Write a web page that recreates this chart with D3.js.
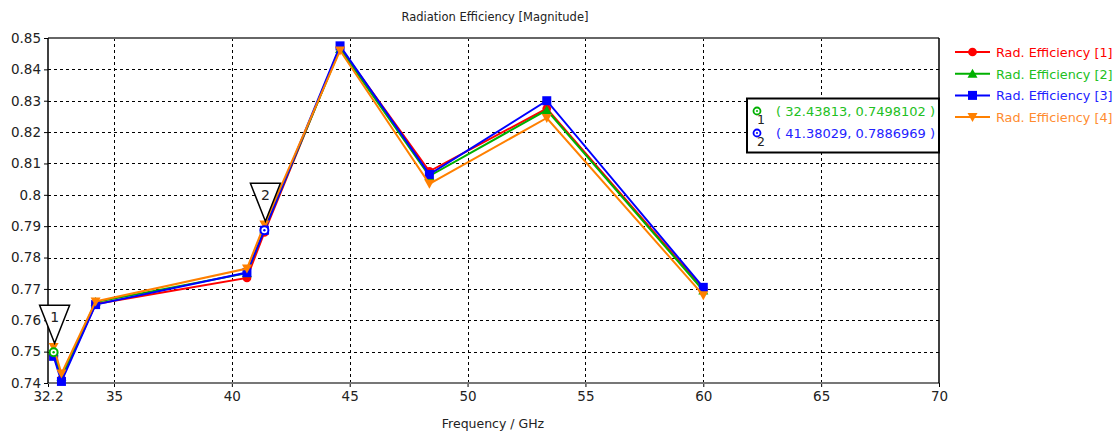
<!DOCTYPE html>
<html>
<head>
<meta charset="utf-8">
<script src="https://cdn.jsdelivr.net/npm/d3@7"></script>
<style>
  body { margin: 0; background: #fff; }
  svg { font-family: "DejaVu Sans", sans-serif; }
</style>
</head>
<body>
<svg id="chart" width="1118" height="436"></svg>
<script>
// frequencies (GHz) of the sample points
var freqs = [32.43813, 32.77, 34.22, 40.64, 41.38029, 44.59, 48.38, 53.36, 60];

// efficiency per series
var eff1 = [0.7490, 0.7412, 0.7652, 0.7735, 0.7880, 0.8470, 0.8075, 0.8275, 0.7700];
var eff2 = [0.7498, 0.7420, 0.7658, 0.7750, 0.7890, 0.8465, 0.8060, 0.8270, 0.7695];
var eff3 = [0.7485, 0.7405, 0.7650, 0.7752, 0.7887, 0.8475, 0.8065, 0.8300, 0.7705];
var eff4 = [0.7515, 0.7430, 0.7660, 0.7765, 0.7905, 0.8460, 0.8035, 0.8245, 0.7680];

var seriesNames = ["Rad. Efficiency [1]", "Rad. Efficiency [2]", "Rad. Efficiency [3]", "Rad. Efficiency [4]"];
var seriesColors = ["#ff0000", "#00b000", "#0000ff", "#ff8000"];
var legendColors = ["#ff0000", "#22c022", "#2222ff", "#ff8c30"];
var seriesShapes = ["circle", "triangle", "square", "down"];

var xTicks = [32.2, 35, 40, 45, 50, 55, 60, 65, 70];
var yTicks = [0.74, 0.75, 0.76, 0.77, 0.78, 0.79, 0.8, 0.81, 0.82, 0.83, 0.84, 0.85];

// marker readouts
var markerLabels = ["1", "2"];
var markerSeries = [1, 2];       // index into series
var markerPoint = [0, 4];        // index into freqs
var markerText = ["( 32.43813, 0.7498102 )", "( 41.38029, 0.7886969 )"];

var allSeries = [eff1, eff2, eff3, eff4];

var svg = d3.select("#chart"),
    margin = {top: 38, right: 179, bottom: 53, left: 48},
    width = +svg.attr("width") - margin.left - margin.right,
    height = +svg.attr("height") - margin.top - margin.bottom;

var x = d3.scaleLinear().domain([32.2, 70]).range([margin.left, margin.left + width]);
var y = d3.scaleLinear().domain([0.74, 0.85]).range([margin.top + height, margin.top]);

// title
svg.append("text")
    .attr("x", 495).attr("y", 21)
    .attr("text-anchor", "middle")
    .attr("font-size", 11.5)
    .attr("fill", "#222")
    .text("Radiation Efficiency [Magnitude]");

// grid
var grid = svg.append("g").attr("stroke", "#000").attr("stroke-width", 1).attr("stroke-dasharray", "3,3");
grid.selectAll("line.v")
  .data(xTicks.filter(function(d) { return d > 32.2 && d < 70; }))
  .enter().append("line")
    .attr("x1", function(d) { return Math.round(x(d)) + 0.5; })
    .attr("x2", function(d) { return Math.round(x(d)) + 0.5; })
    .attr("y1", y(0.85)).attr("y2", y(0.74));
grid.selectAll("line.h")
  .data(yTicks.filter(function(d) { return d > 0.74 && d < 0.85; }))
  .enter().append("line")
    .attr("y1", function(d) { return Math.round(y(d)) + 0.5; })
    .attr("y2", function(d) { return Math.round(y(d)) + 0.5; })
    .attr("x1", x(32.2)).attr("x2", x(70));

// axes
var yAxis = svg.append("g")
    .attr("transform", "translate(" + x(32.2) + ",0)")
    .call(d3.axisLeft(y).tickValues(yTicks).tickSize(4).tickPadding(3)
      .tickFormat(function(d) { return String(+d.toFixed(2)); }));
var xAxis = svg.append("g")
    .attr("transform", "translate(0," + y(0.74) + ")")
    .call(d3.axisBottom(x).tickValues(xTicks).tickSize(4).tickPadding(4)
      .tickFormat(function(d) { return String(d); }));
[xAxis, yAxis].forEach(function(a) {
  a.select(".domain").remove();
  a.selectAll("text").attr("font-size", 13.5).attr("fill", "#222").attr("font-family", "DejaVu Sans, sans-serif");
  a.selectAll("line").attr("stroke", "#000");
});

// frame
svg.append("line").attr("x1", x(32.2)).attr("x2", x(70)).attr("y1", y(0.85)).attr("y2", y(0.85))
    .attr("stroke", "#666").attr("stroke-width", 2);
svg.append("line").attr("x1", x(32.2)).attr("x2", x(70)).attr("y1", y(0.74)).attr("y2", y(0.74))
    .attr("stroke", "#777").attr("stroke-width", 2);
svg.append("line").attr("x1", x(32.2)).attr("x2", x(32.2)).attr("y1", y(0.85)).attr("y2", y(0.74))
    .attr("stroke", "#000").attr("stroke-width", 1.5);
svg.append("line").attr("x1", x(70)).attr("x2", x(70)).attr("y1", y(0.85)).attr("y2", y(0.74))
    .attr("stroke", "#000").attr("stroke-width", 1.5);

// x label
svg.append("text")
    .attr("x", 493).attr("y", 428)
    .attr("text-anchor", "middle")
    .attr("font-size", 12.5)
    .attr("fill", "#222")
    .text("Frequency / GHz");

function shapePath(shape, s) {
  if (shape === "circle") return d3.symbol().type(d3.symbolCircle).size(s * 5)();
  if (shape === "square") return "M-4.5,-4.5H4.5V4.5H-4.5Z";
  if (shape === "triangle") return "M0,-5L5,4H-5Z";
  return "M0,5L5,-4H-5Z";
}

var line = d3.line()
    .x(function(d, i) { return x(freqs[i]); })
    .y(function(d) { return y(d); });

var plot = svg.append("g");
allSeries.forEach(function(vals, k) {
  var g = plot.append("g");
  g.append("path")
      .attr("d", line(vals))
      .attr("fill", "none")
      .attr("stroke", seriesColors[k])
      .attr("stroke-width", 2);
  g.selectAll("path.m")
    .data(vals)
    .enter().append("path")
      .attr("class", "m")
      .attr("transform", function(d, i) { return "translate(" + x(freqs[i]) + "," + y(d) + ")"; })
      .attr("d", shapePath(seriesShapes[k], 12))
      .attr("fill", seriesColors[k]);
});

// marker callouts on the curves
markerLabels.forEach(function(lab, m) {
  var s = markerSeries[m], p = markerPoint[m];
  var px = x(freqs[p]), py = y(allSeries[s][p]);
  var ax = px + 1, ay = py - 9;
  svg.append("path")
      .attr("d", "M" + (ax - 15) + "," + (ay - 38) + "H" + (ax + 15) + "L" + ax + "," + ay + "Z")
      .attr("fill", "#fff").attr("stroke", "#000").attr("stroke-width", 1.5);
  svg.append("text")
      .attr("x", ax).attr("y", ay - 21)
      .attr("text-anchor", "middle")
      .attr("font-size", 14)
      .attr("fill", "#222")
      .text(lab);
  svg.append("circle").attr("cx", px).attr("cy", py).attr("r", 4)
      .attr("fill", "#fff").attr("stroke", seriesColors[s]).attr("stroke-width", 2);
  svg.append("circle").attr("cx", px).attr("cy", py).attr("r", 1.2).attr("fill", seriesColors[s]);
});

// marker readout box
var box = svg.append("g");
box.append("rect")
    .attr("x", 747).attr("y", 98.5).attr("width", 192).attr("height", 54)
    .attr("fill", "#fff").attr("stroke", "#000").attr("stroke-width", 2);
markerLabels.forEach(function(lab, m) {
  var s = markerSeries[m];
  var cy = 111 + m * 22;
  box.append("circle").attr("cx", 757).attr("cy", cy).attr("r", 3.5)
      .attr("fill", "#fff").attr("stroke", seriesColors[s]).attr("stroke-width", 1.8);
  box.append("circle").attr("cx", 757).attr("cy", cy).attr("r", 1).attr("fill", seriesColors[s]);
  box.append("text").attr("x", 757).attr("y", cy + 13).attr("font-size", 12.5).attr("fill", "#222").text(lab);
  box.append("text").attr("x", 776).attr("y", cy + 5).attr("font-size", 13)
      .attr("fill", legendColors[s]).text(markerText[m]);
});

// legend
var legend = svg.append("g")
  .selectAll("g")
  .data(seriesNames)
  .enter().append("g")
    .attr("transform", function(d, i) { return "translate(955," + (52 + i * 21.7) + ")"; });
legend.append("line")
    .attr("x1", 0).attr("x2", 35)
    .attr("stroke", function(d, i) { return seriesColors[i]; })
    .attr("stroke-width", 2);
legend.append("path")
    .attr("transform", "translate(17.5,0)")
    .attr("d", function(d, i) { return shapePath(seriesShapes[i], 12); })
    .attr("fill", function(d, i) { return seriesColors[i]; });
legend.append("text")
    .attr("x", 41).attr("y", 5)
    .attr("font-size", 12.8)
    .attr("fill", function(d, i) { return legendColors[i]; })
    .text(function(d) { return d; });
</script>
</body>
</html>
